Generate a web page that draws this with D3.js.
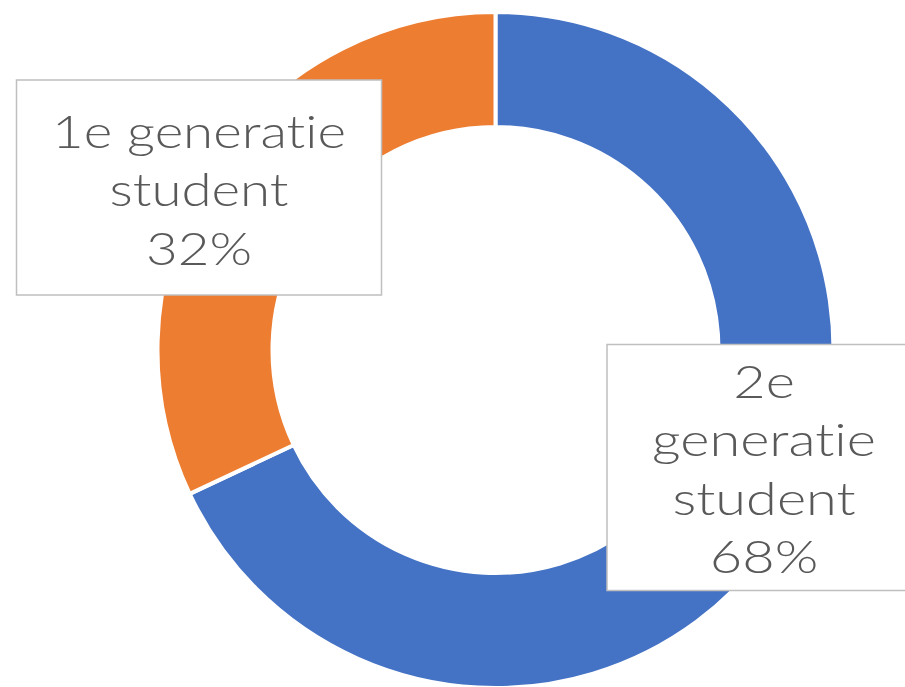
<!DOCTYPE html>
<html><head><meta charset="utf-8">
<script src="https://cdn.jsdelivr.net/npm/d3@7"></script>
<style>html,body{margin:0;padding:0;background:#fff;}svg{display:block;}</style>
</head><body>
<script>
const categories = ["2e generatie student", "1e generatie student"];
const values = [68, 32];
const colors = ["#4472C4", "#ED7D31"];
const labelLines = [["2e", "generatie", "student"], ["1e generatie", "student"]];

const W = 905, H = 687;
const cx = 495.5, cy = 350, rOuter = 338, rInner = 223;
const svg = d3.select("body").append("svg").attr("width", W).attr("height", H);

const total = d3.sum(values);
const pie = d3.pie().sort(null).value(d => d)(values);
const arc = d3.arc().innerRadius(rInner).outerRadius(rOuter);
const g = svg.append("g").attr("transform", `translate(${cx},${cy})`);
g.selectAll("path").data(pie).enter().append("path")
  .attr("d", arc).attr("fill", (d, i) => colors[i])
  .attr("stroke", "#fff").attr("stroke-width", 4).attr("stroke-linejoin", "round");

// label boxes (layout)
const boxes = [
  {x: 607, y: 344.5, w: 314, h: 246, firstBaseline: 398, ref: "generatie", refW: 224},
  {x: 16.5, y: 80, w: 365, h: 215, firstBaseline: 148, ref: "1e generatie", refW: 294}
];
const fontSize = 46, lineH = 58.5;
boxes.forEach((b, i) => {
  svg.append("rect").attr("x", b.x).attr("y", b.y).attr("width", b.w).attr("height", b.h)
    .attr("fill", "#fff").attr("stroke", "#BFBFBF").attr("stroke-width", 1.5);
  const lines = labelLines[i].concat([Math.round(values[i] / total * 100) + "%"]);
  const t = svg.append("text").attr("text-anchor", "middle")
    .attr("font-family", "Lato, 'Open Sans', sans-serif").attr("font-size", fontSize)
    .attr("font-weight", 300).attr("fill", "#595959")
    .style("font-variant-ligatures", "none").style("font-feature-settings", "'liga' 0");
  const spans = lines.map((ln, j) =>
    t.append("tspan").attr("x", 0).attr("y", b.firstBaseline + j * lineH).text(ln));
  const refSpan = spans[lines.indexOf(b.ref)];
  const sx = b.refW / refSpan.node().getComputedTextLength();
  t.attr("transform", `translate(${b.x + b.w / 2},0) scale(${sx},1)`);
});
</script>
</body></html>
